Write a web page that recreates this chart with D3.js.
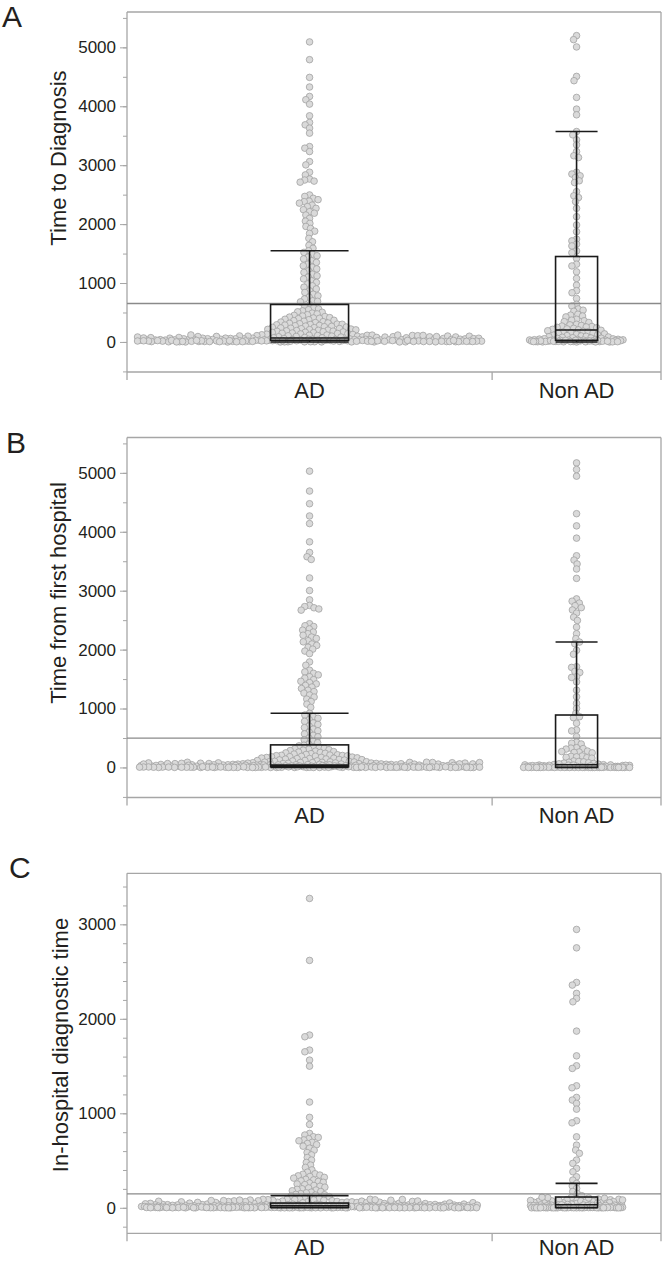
<!DOCTYPE html>
<html>
<head>
<meta charset="utf-8">
<script src="https://cdn.jsdelivr.net/npm/d3@7/dist/d3.min.js"></script>
<style>
body { margin:0; background:#fff; }
svg text { font-family:"Liberation Sans", Arial, sans-serif; fill:#231f20; }
</style>
</head>
<body>
<div id="wrapper"></div>
<script>
// groups and sizes (x axis is proportional to group size)
var categories = ["AD", "Non AD"];
var groupCounts = [320, 148];
var yTicksLong = [0, 1000, 2000, 3000, 4000, 5000];
var yTicksShort = [0, 1000, 2000, 3000];

// A: time to diagnosis
var diagAD = [5092,4791,4490,4327,4167,4111,4037,3838,3725,3685,3629,3544,3316,3289,3231,3061,3005,2881,2835,2765,2748,2730,2712,
  2495,2470,2438,2415,2390,2381,2356,2322,2297,2268,2245,2211,2185,2154,2097,2050,2012,1960,1927,1880,1842,1758,1700,1640,1590,
  1548,1520,1490,1463,1440,1410,1378,1350,1320,1293,1270,1240,1208,1180,1150,1123,1100,1070,1038,1010,985,953,930,900,868,840,810,783,760,730,698,690,680,
  630,604,583,561,547,528,512,503,489,476,462,451,440,431,422,413,407,401,394,385,377,368,361,352,344,337,329,322,316,309,303,300,
  296,291,286,280,275,269,264,259,253,248,243,238,233,228,224,219,214,209,205,201,
  197,193,188,183,179,174,170,165,161,157,152,148,144,140,136,131,127,122,118,113,109,104,99,94,88,83,77,71,
  45,96,33,72,38,107,29,58,86,41,35,113,50,31,64,98,37,116,54,40,30,77,102,34,53,83,59,36,89,65,32,46,117,39,94,42,71,30,55,110,
  28,64,36,92,48,33,87,41,106,38,53,29,76,59,35,100,64,42,31,85,39,111,47,34,52,73,97,37,56,30,119,63,40,84,32,45,68,36,91,44,
  12,3,21,0,8,15,26,5,18,1,10,24,7,14,2,20,9,27,4,16,0,11,23,6,13,19,2,25,8,17,1,22,10,3,15,27,6,12,0,20,
  9,24,4,18,11,2,26,7,14,21,5,16,1,23,10,8,19,3,13,25,0,17,6,22,12,4,15,27,9,2,20,7,11,24,1,18,5,14,26,8];
var diagNon = [5199,5131,5007,4507,4434,4150,3952,3855,3571,3515,3430,3345,3231,3160,3130,2880,2850,2820,2790,2735,2705,2551,2480,2450,2381,2268,2126,1985,1871,1745,1715,1660,1630,1545,1515,
  1418,1320,1290,1190,1078,964,870,835,738,640,610,560,539,520,470,455,440,425,385,370,360,345,330,300,290,280,270,262,255,248,240,231,222,214,206,
  198,190,181,175,166,160,151,143,137,128,122,116,107,101,95,88,84,79,72,68,63,59,55,52,48,45,43,40,38,36,34,33,31,30,29,
  14,3,22,0,9,17,26,6,11,1,19,24,4,13,8,21,2,27,15,7,0,18,10,25,5,12,23,3,16,20,1,9,28,6,11];

// B: time from first hospital
var hospAD = [5029,4691,4476,4268,4139,3829,3649,3576,3530,3216,3002,2845,2750,2730,2710,2690,2670,
  2439,2405,2392,2351,2330,2298,2270,2244,2213,2190,2151,2132,2095,2071,2040,2008,1975,1932,1791,1735,
  1650,1622,1598,1571,1540,1515,1490,1462,1440,1418,1392,1365,1340,1311,1288,1262,1230,1195,1160,1120,1075,1020,
  919,890,862,835,810,782,755,730,702,676,650,622,598,570,545,520,498,470,445,420,395,
  378,366,352,340,327,318,309,301,294,286,277,269,261,254,247,240,233,227,221,215,210,206,203,200,
  197,191,188,183,181,176,171,169,163,160,157,151,149,144,141,135,133,128,125,119,117,112,109,104,102,100,
  98,95,93,90,87,85,82,80,77,75,73,70,68,66,64,62,60,58,56,54,52,51,49,48,46,45,44,43,42,41,
  25,63,31,18,78,22,45,34,67,12,20,86,29,56,24,39,14,72,21,26,47,35,88,13,23,57,19,30,65,33,25,80,21,38,51,16,34,74,29,14,
  24,60,20,31,83,26,39,52,17,35,70,15,23,42,19,37,61,30,25,84,33,21,48,38,27,66,24,35,13,77,20,44,22,58,31,26,89,34,17,28,
  0,3,7,1,0,11,5,2,9,0,4,8,1,10,6,0,3,12,2,7,0,5,1,9,4,0,11,2,6,0,8,3,1,10,0,5,7,2,0,4,
  9,1,12,3,0,6,2,8,0,1,5,10,0,3,7,1,0,4,11,2,6,0,9,1,3,0,8,5,2,0,10,4,1,7,0,3,6,0,2,12];
var hospNon = [5169,5057,4944,4307,4100,3892,3593,3520,3453,3368,3209,2861,2822,2790,2745,2712,2673,2620,2551,2495,2382,2270,2186,
  2128,2101,1988,1921,1710,1698,1630,1612,1540,1528,1453,1312,1199,1088,1003,919,
  861,845,750,637,620,524,430,412,398,335,328,320,312,278,270,262,255,248,195,188,180,172,165,158,110,101,95,88,80,74,68,62,56,50,47,
  22,8,37,14,4,29,11,41,18,6,33,25,9,44,16,3,27,12,39,20,7,31,15,43,5,24,35,10,19,40,13,28,6,36,17,
  0,1,0,2,0,0,1,2,0,2,1,0,0,1,2,0,1,0,1,0,2,0,0,1,0,2,1,0,2,0,1];

// C: in-hospital diagnostic time
var inhospAD = [3274,2618,1828,1810,1669,1651,1563,1499,1119,957,882,787,770,752,745,731,718,709,693,680,668,652,631,610,585,560,532,505,480,452,428,401,377,
  360,355,346,338,331,322,314,301,295,285,278,270,262,252,245,236,228,218,210,201,195,188,180,172,165,158,150,142,138,135,
  124,118,112,106,101,96,92,87,83,79,75,71,67,63,59,56,53,
  35,78,27,61,23,30,86,38,25,63,33,89,28,56,74,24,31,70,47,26,54,82,29,37,65,22,32,59,90,27,45,73,24,30,66,38,26,81,33,48,
  29,56,23,84,31,39,67,25,34,72,28,57,45,22,32,80,49,27,35,63,24,30,76,38,26,51,33,88,29,36,23,69,31,39,47,25,54,42,28,77,
  12,7,18,9,15,6,21,11,14,8,19,10,16,5,13,20,7,17,9,12,22,6,15,11,18,8,14,10,19,5,13,16,7,21,9,12,17,6,15,11,
  20,8,14,10,18,5,13,16,7,19,9,12,22,6,15,11,17,8,14,10,20,5,13,16,7,18,9,12,21,6,15,11,19,8,14,10,17,5,13,16,
  0,2,1,4,0,3,1,0,2,5,1,0,3,0,2,4,1,0,0,3,2,1,0,5,0,2,1,3,0,4,1,0,2,0,3,1,5,0,2,0,
  1,4,0,3,2,0,1,0,5,2,1,0,3,0,4,1,2,0,0,3,1,5,0,2,1,0,4,0,3,1,2,0,0,5,1,3,0,2,4,1];
var inhospNon = [2946,2751,2385,2357,2269,2216,2180,1870,1608,1503,1475,1291,1270,1168,1140,1105,1044,921,899,751,663,611,576,505,470,417,381,328,293,
  258,231,205,172,150,128,
  98,45,72,110,38,61,87,52,104,34,67,80,41,93,56,74,36,101,48,63,85,33,70,107,43,58,90,39,77,50,112,65,35,83,54,
  15,6,24,10,30,4,19,12,27,8,21,5,16,29,9,23,13,3,26,11,18,7,31,14,22,5,28,10,17,4,25,12,20,8,32,
  0,1,2,0,3,1,0,0,2,1,0,3,0,1,2,0,0,1,3,0,2,1,0,0,2,1,3,0,1,0,2,0,1,3,0];

// box summaries: [lower whisker, q1, median, q3, upper whisker]
var boxDiagAD = [0, 28, 68, 636, 1548];
var boxDiagNon = [0, 28, 202, 1450, 3571];
var boxHospAD = [0, 12, 40, 383, 919];
var boxHospNon = [0, 2, 45, 890, 2128];
var boxInhospAD = [0, 5, 22, 50, 129];
var boxInhospNon = [0, 3, 32, 114, 258];
var overallMeans = [653, 497, 147];

var panels = [
  {letter:"A", title:"Time to Diagnosis", vals:[diagAD, diagNon], boxes:[boxDiagAD, boxDiagNon], mean:overallMeans[0],
   domain:[-510, 5600], ticks:yTicksLong, minorStep:500, top:12, titleX:66, titleY:158, lx:2, ly:27, catDy:26, spread:[172, 47]},
  {letter:"B", title:"Time from first hospital", vals:[hospAD, hospNon], boxes:[boxHospAD, boxHospNon], mean:overallMeans[1],
   domain:[-510, 5600], ticks:yTicksLong, minorStep:500, top:437.5, titleX:66, titleY:593, lx:6, ly:453, catDy:25, spread:[170, 53]},
  {letter:"C", title:"In-hospital diagnostic time", vals:[inhospAD, inhospNon], boxes:[boxInhospAD, boxInhospNon], mean:overallMeans[2],
   domain:[-270, 3540], ticks:yTicksShort, minorStep:200, top:873.3, titleX:68, titleY:1045, lx:9, ly:878, catDy:22, spread:[168, 46]}
];

var left = 127, right = 661, plotH = 360, r = 3.3, minD = 5;
var boxW = [78, 42];
var frameCol = '#a6a6a6';

var svg = d3.select('#wrapper').append('svg').attr('width', 665).attr('height', 1261);

var x = d3.scaleLinear().domain([0, d3.sum(groupCounts)]).range([left, right]);
var edges = [0, groupCounts[0], d3.sum(groupCounts)];
var centers = [(x(edges[0]) + x(edges[1])) / 2, (x(edges[1]) + x(edges[2])) / 2];

// simple beeswarm in data order: nearest free slot to the centre, else the roomiest spot in the band
function swarm(values, y, halfW) {
  var pts = values.map(function(v) { return {v:v, y:y(v), x:0}; });
  var placed = [];
  pts.forEach(function(p) {
    var iv = [];
    placed.forEach(function(q) {
      var dy = q.y - p.y;
      if (Math.abs(dy) < minD) {
        var w = Math.sqrt(minD * minD - dy * dy);
        iv.push([q.x - w, q.x + w]);
      }
    });
    var cands = [0];
    iv.forEach(function(d) { cands.push(d[0], d[1]); });
    cands.sort(function(a, b) { return Math.abs(a) - Math.abs(b); });
    var best = null;
    for (var i = 0; i < cands.length; i++) {
      var c = cands[i];
      if (Math.abs(c) > halfW) break;
      var ok = iv.every(function(d) { return c <= d[0] + 1e-6 || c >= d[1] - 1e-6; });
      if (ok) { best = c; break; }
    }
    if (best === null) {
      var near = placed.filter(function(q) { return Math.abs(q.y - p.y) < 3 * minD; });
      var bestScore = -1;
      best = 0;
      for (var xx = -halfW; xx <= halfW; xx += 1) {
        var s = Infinity;
        near.forEach(function(q) { var dx = q.x - xx, dy = q.y - p.y; s = Math.min(s, dx * dx + dy * dy); });
        if (s > bestScore + 1e-9 || (Math.abs(s - bestScore) < 1e-9 && Math.abs(xx) < Math.abs(best))) { bestScore = s; best = xx; }
      }
    }
    p.x = best;
    placed.push(p);
  });
  return placed;
}

panels.forEach(function(p) {
  var top = p.top, bottom = p.top + plotH;
  var y = d3.scaleLinear().domain(p.domain).range([bottom, top]);
  var g = svg.append('g');

  // frame
  g.append('line').attr('x1', left).attr('x2', right).attr('y1', top).attr('y2', top)
    .attr('stroke', frameCol).attr('stroke-width', 1.3);
  g.append('line').attr('x1', left).attr('x2', right).attr('y1', bottom).attr('y2', bottom)
    .attr('stroke', frameCol).attr('stroke-width', 1.3);
  g.selectAll('line.vx').data(edges).enter().append('line').attr('class', 'vx')
    .attr('x1', function(d) { return x(d); }).attr('x2', function(d) { return x(d); })
    .attr('y1', function(d, i) { return i === 1 ? bottom : top; }).attr('y2', bottom + 8)
    .attr('stroke', frameCol).attr('stroke-width', 1.3);

  // y axis
  var minor = d3.range(Math.ceil(p.domain[0] / p.minorStep) * p.minorStep, p.domain[1], p.minorStep);
  g.append('g').attr('transform', 'translate(' + left + ',0)')
    .call(d3.axisLeft(y).tickValues(minor).tickSize(4).tickFormat(''))
    .call(function(s) { s.select('.domain').remove(); s.selectAll('line').attr('stroke', frameCol); });
  g.append('g').attr('transform', 'translate(' + left + ',0)')
    .call(d3.axisLeft(y).tickValues(p.ticks).tickSize(7).tickPadding(4).tickFormat(d3.format('d')))
    .call(function(s) {
      s.select('.domain').remove();
      s.selectAll('line').attr('stroke', frameCol);
      s.selectAll('text').attr('font-size', 17).attr('font-family', '"Liberation Sans", Arial, sans-serif').style('fill', '#231f20');
    });

  g.append('text').attr('transform', 'translate(' + p.titleX + ',' + p.titleY + ') rotate(-90)')
    .attr('text-anchor', 'middle').attr('font-size', 22).text(p.title);
  g.append('text').attr('x', p.lx).attr('y', p.ly).attr('font-size', 30).text(p.letter);

  g.selectAll('text.cat').data(categories).enter().append('text').attr('class', 'cat')
    .attr('x', function(d, i) { return centers[i]; }).attr('y', bottom + p.catDy)
    .attr('text-anchor', 'middle').attr('font-size', 22).text(function(d) { return d; });

  // points
  p.vals.forEach(function(vals, gi) {
    var pts = swarm(vals, y, p.spread[gi]);
    g.append('g').selectAll('circle').data(pts).enter().append('circle')
      .attr('cx', function(d) { return centers[gi] + d.x; })
      .attr('cy', function(d) { return d.y; })
      .attr('r', r)
      .attr('fill', '#dadada').attr('stroke', '#a2a2a2').attr('stroke-width', 0.8);
  });

  // overall mean line
  g.append('line').attr('x1', left).attr('x2', right).attr('y1', y(p.mean)).attr('y2', y(p.mean))
    .attr('stroke', '#8a8a8a').attr('stroke-width', 1.4);

  // box plots
  p.boxes.forEach(function(b, gi) {
    var cx = centers[gi], hw = boxW[gi] / 2;
    var bg = g.append('g').attr('stroke', '#1a1a1a').attr('stroke-width', 1.6).attr('fill', 'none');
    bg.append('rect').attr('x', cx - hw).attr('y', y(b[3])).attr('width', 2 * hw).attr('height', y(b[1]) - y(b[3]));
    bg.append('line').attr('x1', cx - hw).attr('x2', cx + hw).attr('y1', y(b[2])).attr('y2', y(b[2]));
    bg.append('line').attr('x1', cx).attr('x2', cx).attr('y1', y(b[3])).attr('y2', y(b[4]));
    bg.append('line').attr('x1', cx).attr('x2', cx).attr('y1', y(b[1])).attr('y2', y(b[0]));
    bg.append('line').attr('x1', cx - hw).attr('x2', cx + hw).attr('y1', y(b[4])).attr('y2', y(b[4]));
    bg.append('line').attr('x1', cx - hw).attr('x2', cx + hw).attr('y1', y(b[0])).attr('y2', y(b[0]));
  });
});
</script>
</body>
</html>
